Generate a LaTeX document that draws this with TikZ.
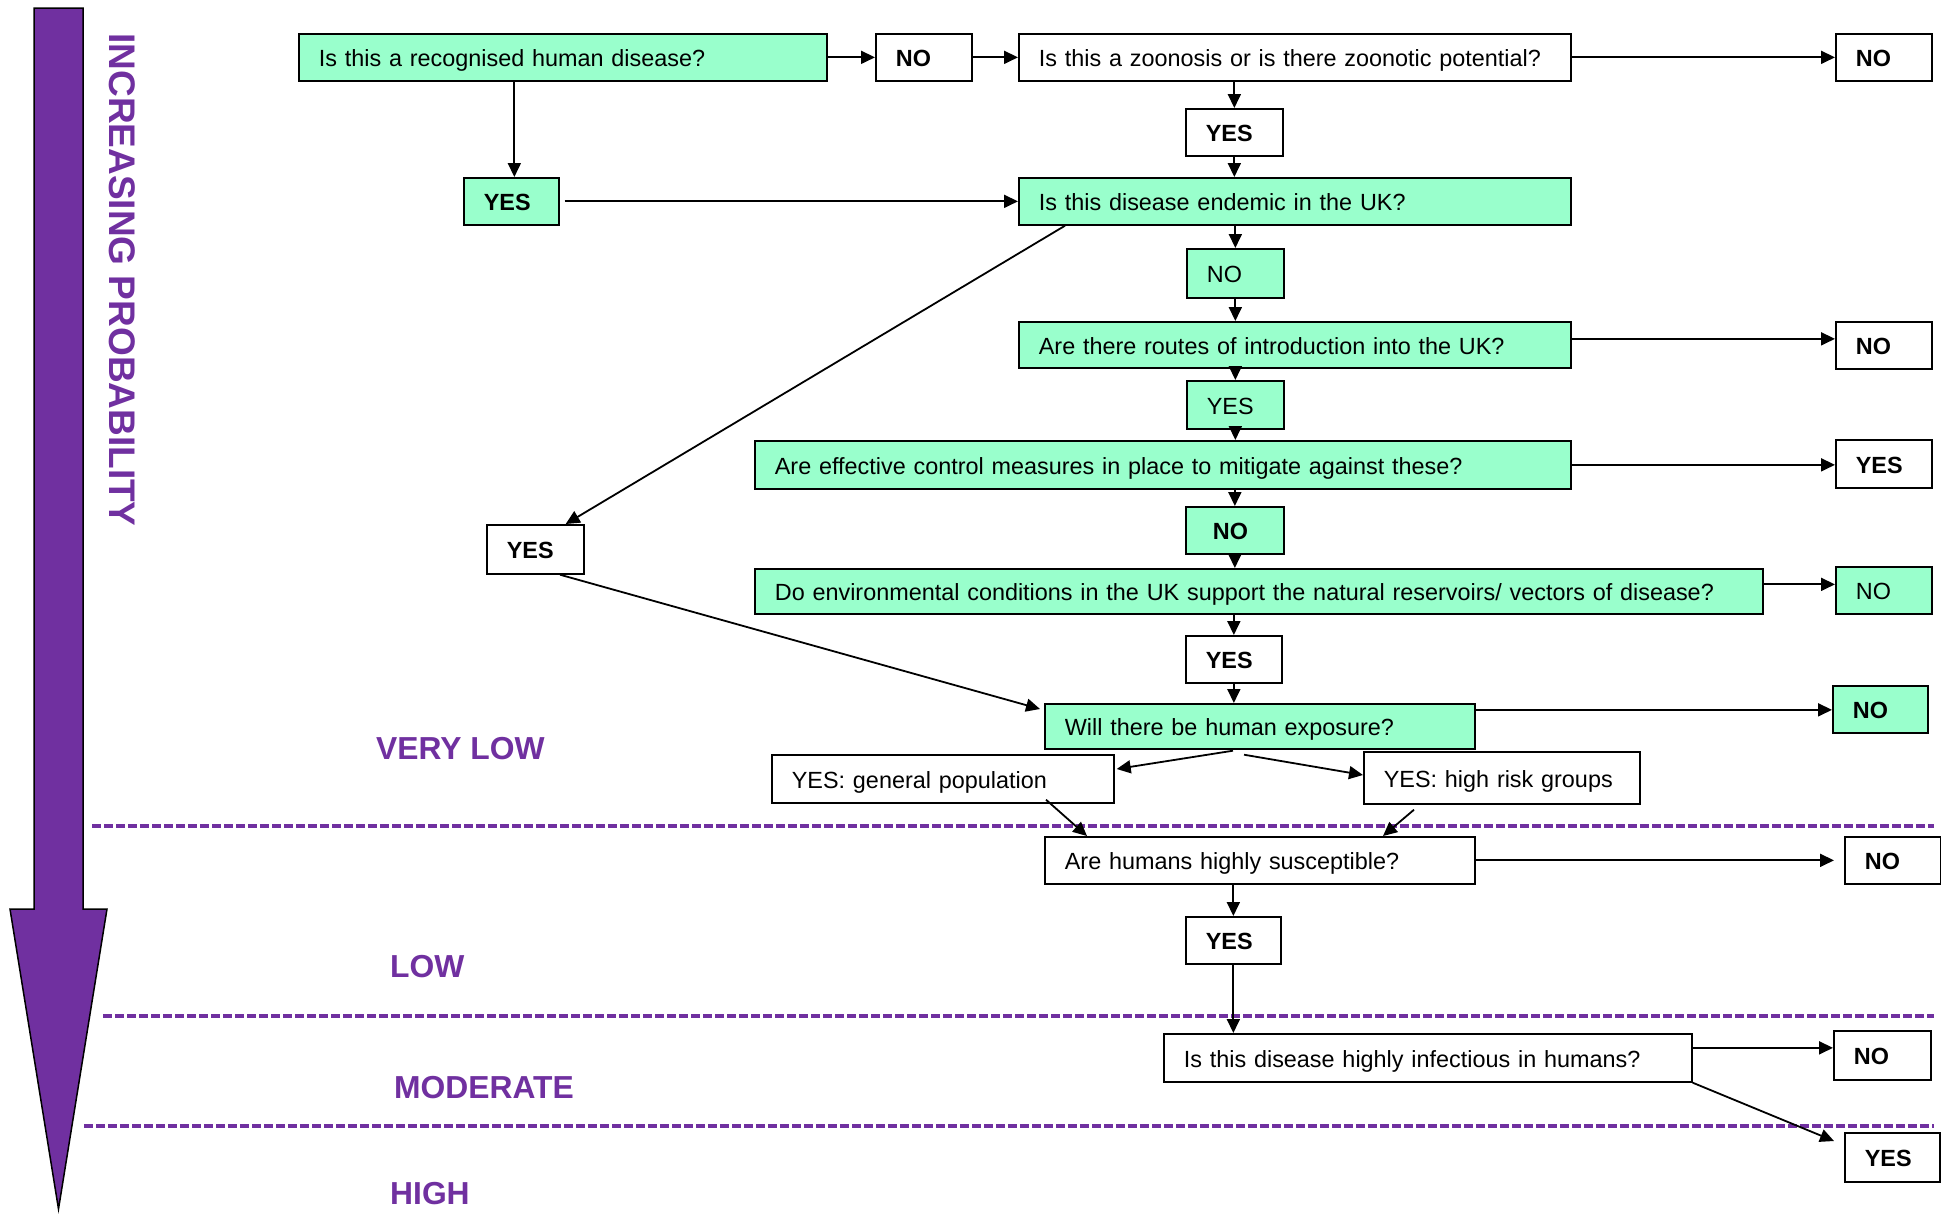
\documentclass[tikz,border=0pt]{standalone}
\usepackage{fontspec}
\setmainfont{Liberation Sans}
\usetikzlibrary{arrows.meta,calc}
\definecolor{mint}{RGB}{153,255,204}
\definecolor{purp}{RGB}{112,48,160}
\newcommand\fs{\fontsize{23.4}{28}\selectfont}
\newcommand\lvlfont{\fontsize{31.8}{36}\selectfont\bfseries}
\newcommand\vertfont{\fontsize{37}{42}\selectfont\bfseries}
\tikzset{
  basebox/.style={draw=black, line width=1.7pt, anchor=north west, inner xsep=20pt, inner ysep=0pt, font=\fs, align=left, text height=19pt, text depth=0pt},
  gbox/.style={basebox, fill=mint},
  wbox/.style={basebox, fill=white},
  bf/.style={font=\fs\bfseries},
  arr/.style={-{Triangle[length=14pt,width=13pt]}, line width=1.8pt},
  level/.style={font=\lvlfont, text=purp, anchor=west, inner sep=0pt},
  divider/.style={purp, line width=4pt, dash pattern=on 9pt off 3pt}
}
\begin{document}
\begin{tikzpicture}[x=1pt,y=-1pt]
\useasboundingbox (0,0) rectangle (1941,1213);
\fill[white] (0,0) rectangle (1941,1213);

% big probability arrow
\draw[line width=1.5pt, fill=purp] (34,8) -- (83,8) -- (83,909) -- (107,909) -- (58.5,1209) -- (10,909) -- (34,909) -- cycle;
\node[rotate=-90, font=\vertfont, text=purp, inner sep=0pt] (title) at (122,280) {INCREASING PROBABILITY};

% dividers
\coordinate (d1a) at (92,826);  \coordinate (d1b) at (1934,826);
\coordinate (d2a) at (103,1016); \coordinate (d2b) at (1934,1016);
\coordinate (d3a) at (84,1126);  \coordinate (d3b) at (1934,1126);
\draw[divider] (d1a) -- (d1b);
\draw[divider] (d2a) -- (d2b);
\draw[divider] (d3a) -- (d3b);

% level labels
\node[level] (vlow) at (376,749) {VERY LOW};
\node[level] (low) at (390,967) {LOW};
\node[level] (mod) at (394,1088) {MODERATE};
\node[level] (high) at (390,1194) {HIGH};

% boxes
\node[gbox, text width=488pt, minimum height=47pt] (A) at (298,33) {Is this a recognised human disease?};
\node[wbox, bf, text width=56pt, minimum height=47pt] (B) at (875,33) {NO};
\node[wbox, text width=512pt, minimum height=47pt] (C) at (1018,33) {\mbox{Is this a zoonosis or is there zoonotic potential?}};
\node[wbox, bf, text width=56pt, minimum height=47pt] (D) at (1835,33) {NO};
\node[wbox, bf, text width=57pt, minimum height=47pt] (E) at (1185,108) {YES};
\node[gbox, bf, text width=55pt, minimum height=47pt] (F) at (463,177) {YES};
\node[gbox, text width=512pt, minimum height=47pt] (G) at (1018,177) {Is this disease endemic in the UK?};
\node[gbox, text width=57pt, minimum height=49pt] (H) at (1186,248) {NO};
\node[gbox, text width=512pt, minimum height=46pt] (I) at (1018,321) {\mbox{Are there routes of introduction into the UK?}};
\node[wbox, bf, text width=56pt, minimum height=47pt] (J) at (1835,321) {NO};
\node[gbox, text width=57pt, minimum height=48pt] (K) at (1186,380) {YES};
\node[gbox, text width=776pt, minimum height=48pt] (L) at (754,440) {\mbox{Are effective control measures in place to mitigate against these?}};
\node[wbox, bf, text width=56pt, minimum height=48pt] (M) at (1835,439) {YES};
\node[gbox, bf, text width=44pt, inner xsep=27pt, minimum height=47pt] (N) at (1185,506) {NO};
\node[gbox, text width=968pt, minimum height=45pt] (O) at (754,568) {\mbox{Do environmental conditions in the UK support the natural reservoirs/ vectors of disease?}};
\node[gbox, text width=56pt, minimum height=47pt] (P) at (1835,566) {NO};
\node[wbox, bf, text width=57pt, minimum height=49pt] (Q) at (486,524) {YES};
\node[wbox, bf, text width=56pt, minimum height=47pt] (R) at (1185,635) {YES};
\node[gbox, text width=390pt, minimum height=45pt] (S) at (1044,703) {Will there be human exposure?};
\node[gbox, bf, text width=55pt, minimum height=47pt] (T) at (1832,685) {NO};
\node[wbox, text width=302pt, minimum height=48pt] (U) at (771,754) {YES: general population};
\node[wbox, text width=236pt, minimum height=52pt] (V) at (1363,751) {YES: high risk groups};
\node[wbox, text width=390pt, minimum height=47pt] (W) at (1044,836) {Are humans highly susceptible?};
\node[wbox, bf, text width=56pt, minimum height=47pt] (X) at (1844,836) {NO};
\node[wbox, bf, text width=55pt, minimum height=47pt] (Y) at (1185,916) {YES};
\node[wbox, text width=488pt, minimum height=48pt] (Z) at (1163,1033) {\mbox{Is this disease highly infectious in humans?}};
\node[wbox, bf, text width=57pt, minimum height=49pt] (AA) at (1833,1030) {NO};
\node[wbox, bf, text width=55pt, minimum height=49pt] (AB) at (1844,1132) {YES};

% connectors
\draw[arr] (A.east) -- (B.west);
\draw[arr] (B.east) -- (C.west);
\draw[arr] (C.east) -- (D.west);
\draw[arr] (E.north |- C.south) -- (E.north);
\draw[arr] (E.south) -- (E.south |- G.north);
\draw[arr] ([xshift=3pt]F.north |- A.south) -- ([xshift=3pt]F.north);
\draw[arr, shorten <=5pt] (F.east) -- (G.west);
\draw[arr] ($(G.south west)+(47,0)$) -- ($(Q.north east)+(-19,0)$);
\draw[arr] (H.north |- G.south) -- (H.north);
\draw[arr] (H.south) -- (H.south |- I.north);
\draw[arr] ([yshift=6pt]I.east) -- ([yshift=6pt]I.east -| J.west);
\draw[arr] (K.north |- I.south) -- (K.north);
\draw[arr] (K.south) -- (K.south |- L.north);
\draw[arr] (L.east) -- (L.east -| M.west);
\draw[arr] (N.north |- L.south) -- (N.north);
\draw[arr] (N.south) -- (N.south |- O.north);
\draw[arr] ([yshift=7pt]O.east) -- ([yshift=7pt]O.east -| P.west);
\draw[arr] (R.north |- O.south) -- (R.north);
\draw[arr] (R.south) -- (R.south |- S.north);
\draw[arr] ($(Q.south west)+(74,0)$) -- ($(S.north west)+(-4,6)$);
\draw[arr] ([yshift=16.5pt]S.east) -- ([yshift=16.5pt]S.east -| T.west);
\draw[arr] ($(S.south west)+(189,1)$) -- ($(U.north east)+(2,15)$);
\draw[arr] ($(S.south west)+(200,5)$) -- ($(V.north west)+(0,24)$);
\draw[arr] ($(U.south west)+(275,-4)$) -- ($(W.north west)+(43,0)$);
\draw[arr] ($(V.south west)+(51,5)$) -- ($(W.north west)+(339,0)$);
\draw[arr, shorten >=10pt] (W.east) -- (W.east -| X.west);
\draw[arr] (Y.north |- W.south) -- (Y.north);
\draw[arr] (Y.south) -- (Y.south |- Z.north);
\draw[arr] ([yshift=10pt]Z.east) -- ([yshift=10pt]Z.east -| AA.west);
\draw[arr] (Z.south east) -- ($(AB.north west)+(-10,9)$);
\end{tikzpicture}
\end{document}
